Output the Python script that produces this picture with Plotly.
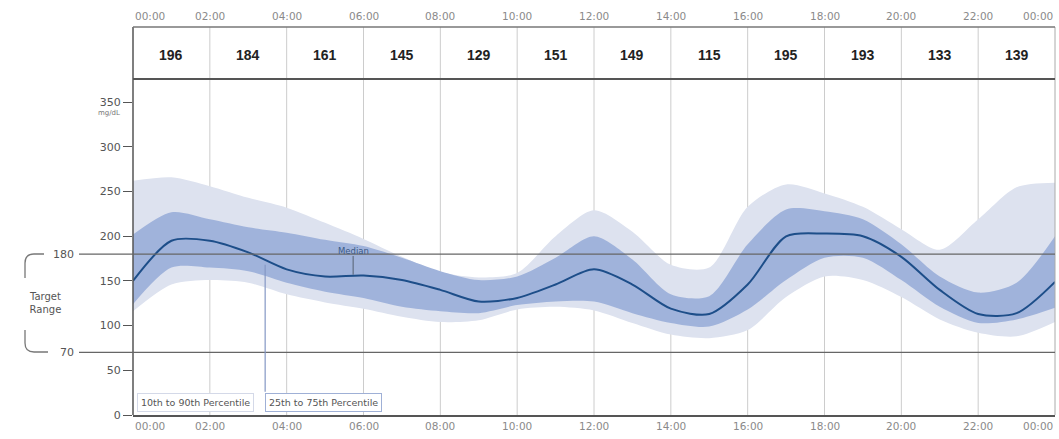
import plotly.graph_objects as go

# Hour of day (0-24) and glucose percentiles in mg/dL
hours = list(range(25))
p90 = [262, 266, 256, 243, 232, 215, 197, 177, 160, 154, 159, 200, 229,
       205, 168, 165, 233, 258, 248, 233, 208, 185, 219, 255, 260]
p75 = [202, 227, 219, 210, 204, 196, 189, 176, 161, 151, 155, 176, 200,
       174, 135, 133, 191, 230, 228, 219, 191, 155, 137, 148, 200]
median = [150, 195, 195, 182, 163, 155, 156, 151, 140, 127, 131, 146, 163,
          146, 119, 113, 146, 200, 203, 200, 177, 140, 113, 114, 149]
p25 = [124, 165, 165, 161, 148, 138, 131, 121, 116, 114, 123, 127, 127,
       114, 103, 99, 118, 151, 176, 176, 151, 121, 103, 107, 120]
p10 = [116, 146, 151, 148, 135, 126, 119, 110, 104, 106, 118, 121, 117,
       103, 90, 86, 95, 132, 155, 151, 132, 107, 92, 88, 104]

# Two-hour bin averages shown in the header strip
bin_centers = [1, 3, 5, 7, 9, 11, 13, 15, 17, 19, 21, 23]
bin_values = [196, 184, 161, 145, 129, 151, 149, 115, 195, 193, 133, 139]

time_ticks = list(range(0, 25, 2))
time_labels = ["00:00", "02:00", "04:00", "06:00", "08:00", "10:00", "12:00",
               "14:00", "16:00", "18:00", "20:00", "22:00", "00:00"]
y_ticks = [0, 50, 100, 150, 200, 250, 300, 350]
target_low, target_high = 70, 180

OUTER = "#dde2ef"
INNER = "#a0b3db"
MEDIAN = "#1d4e89"
AXIS = "#555555"
GRID = "#cccccc"
FONT = "DejaVu Sans, Arial, sans-serif"

W, H = 1059, 439
ML, MR, MT, MB = 133, 4, 27, 24
PW, PH = W - ML - MR, H - MT - MB
HEADER_BOTTOM = 336 / PH   # paper y of the line under the header strip


def px_x(px):
    return (px - ML) / PW


def px_y(py):
    return (H - MB - py) / PH


fig = go.Figure()
spl = dict(shape="spline", smoothing=0.8, width=0)
fig.add_trace(go.Scatter(x=hours, y=p90, mode="lines", line=spl,
                         hoverinfo="skip", showlegend=False))
fig.add_trace(go.Scatter(x=hours, y=p10, mode="lines", line=spl, fill="tonexty",
                         fillcolor=OUTER, name="10th to 90th Percentile", showlegend=False))
fig.add_trace(go.Scatter(x=hours, y=p75, mode="lines", line=spl,
                         hoverinfo="skip", showlegend=False))
fig.add_trace(go.Scatter(x=hours, y=p25, mode="lines", line=spl, fill="tonexty",
                         fillcolor=INNER, name="25th to 75th Percentile", showlegend=False))
fig.add_trace(go.Scatter(x=hours, y=median, mode="lines", name="Median",
                         line=dict(shape="spline", smoothing=0.8, width=2, color=MEDIAN),
                         showlegend=False))

shapes = []
# vertical gridlines through plot and header
for t in time_ticks[1:-1]:
    shapes.append(dict(type="line", xref="x", yref="paper", x0=t, x1=t, y0=0, y1=1,
                       line=dict(color=GRID, width=1), layer="below"))
# frame
shapes.append(dict(type="line", xref="paper", yref="paper", x0=0, x1=0, y0=0, y1=1,
                   line=dict(color=AXIS, width=1.5)))
shapes.append(dict(type="line", xref="paper", yref="paper", x0=1, x1=1, y0=0, y1=1,
                   line=dict(color="#aaaaaa", width=1)))
shapes.append(dict(type="line", xref="paper", yref="paper", x0=0, x1=1, y0=1, y1=1,
                   line=dict(color="#777777", width=1.5)))
shapes.append(dict(type="line", xref="paper", yref="paper", x0=0, x1=1,
                   y0=HEADER_BOTTOM, y1=HEADER_BOTTOM, line=dict(color=AXIS, width=2)))
# target range lines
for v in (target_high, target_low):
    shapes.append(dict(type="line", xref="paper", yref="y", x0=px_x(79), x1=1, y0=v, y1=v,
                       line=dict(color="#666666", width=1.2), layer="above"))

# bracket marking the target range
bx, by_top, by_bot = px_x(25), px_y(254), px_y(352)
r_x, r_y = px_x(34) - bx, 9 / PH
shapes.append(dict(type="path", xref="paper", yref="paper",
                   path=(f"M {px_x(44)},{by_top} L {bx + r_x},{by_top} "
                         f"Q {bx},{by_top} {bx},{by_top - r_y} L {bx},{px_y(278)}"),
                   line=dict(color="#777777", width=1.3)))
shapes.append(dict(type="path", xref="paper", yref="paper",
                   path=(f"M {px_x(48)},{by_bot} L {bx + r_x},{by_bot} "
                         f"Q {bx},{by_bot} {bx},{by_bot + r_y} L {bx},{px_y(330)}"),
                   line=dict(color="#777777", width=1.3)))

# connector from inner band to its label, and median pointer
shapes.append(dict(type="line", xref="x", yref="y", x0=3.44, x1=3.44, y0=168, y1=26,
                   line=dict(color="#8597c4", width=1.2)))
shapes.append(dict(type="line", xref="x", yref="y", x0=5.73, x1=5.73, y0=178, y1=157,
                   line=dict(color="#556070", width=1)))

annotations = []
for c, v in zip(bin_centers, bin_values):
    annotations.append(dict(x=c, y=px_y(55), xref="x", yref="paper", text=f"<b>{v}</b>",
                            yanchor="middle", showarrow=False,
                            font=dict(family="Liberation Sans, Arial", size=14,
                                      color="#222222")))
for i, (t, lab) in enumerate(zip(time_ticks, time_labels)):
    anchor = "left" if i == 0 else ("right" if i == len(time_ticks) - 1 else "center")
    for yy in (px_y(16), px_y(426)):
        annotations.append(dict(x=t, y=yy, xref="x", yref="paper", text=lab, xanchor=anchor,
                                yanchor="middle", showarrow=False,
                                font=dict(family=FONT, size=10.5, color="#8a8a8a")))
annotations.append(dict(x=px_x(122), y=350, xref="paper", yref="y", text="mg/dL",
                        xanchor="right", yanchor="top", yshift=-5, showarrow=False,
                        font=dict(family=FONT, size=7, color="#777777")))
for v in (target_high, target_low):
    annotations.append(dict(x=px_x(76), y=v, xref="paper", yref="y", text=str(v),
                            xanchor="right", yanchor="middle", showarrow=False,
                            font=dict(family=FONT, size=11, color="#555555")))
annotations.append(dict(x=px_x(27), y=px_y(303), xref="paper", yref="paper",
                        text="Target<br>Range", showarrow=False, align="center",
                        yanchor="middle",
                        font=dict(family=FONT, size=10, color="#555555")))
annotations.append(dict(x=5.73, y=183, xref="x", yref="y", text="Median", showarrow=False,
                        yanchor="middle",
                        font=dict(family=FONT, size=8.5, color="#3b5a86")))
annotations.append(dict(x=px_x(137), y=px_y(402), xref="paper", yref="paper",
                        text="10th to 90th Percentile", xanchor="left", yanchor="middle",
                        showarrow=False,
                        bgcolor="white", bordercolor="#d4d9e8", borderwidth=1, borderpad=3,
                        font=dict(family=FONT, size=9.5, color="#555555")))
annotations.append(dict(x=px_x(265), y=px_y(402), xref="paper", yref="paper",
                        text="25th to 75th Percentile", xanchor="left", yanchor="middle",
                        showarrow=False,
                        bgcolor="white", bordercolor="#9fb0d6", borderwidth=1, borderpad=3,
                        font=dict(family=FONT, size=9.5, color="#555555")))

fig.update_layout(
    width=W, height=H,
    margin=dict(l=ML, r=MR, t=MT, b=MB),
    paper_bgcolor="white", plot_bgcolor="white",
    shapes=shapes, annotations=annotations,
    xaxis=dict(range=[0, 24], showgrid=False, zeroline=False, showticklabels=False,
               showline=True, linecolor=AXIS, linewidth=1.5, ticks=""),
    yaxis=dict(range=[0, 376], domain=[0, HEADER_BOTTOM], tickvals=y_ticks,
               showgrid=False, zeroline=False, showline=False, ticks="outside",
               ticklen=9, tickcolor=AXIS, tickwidth=1.2,
               tickfont=dict(family=FONT, size=11, color="#555555")),
)

fig.write_html("out.html")
